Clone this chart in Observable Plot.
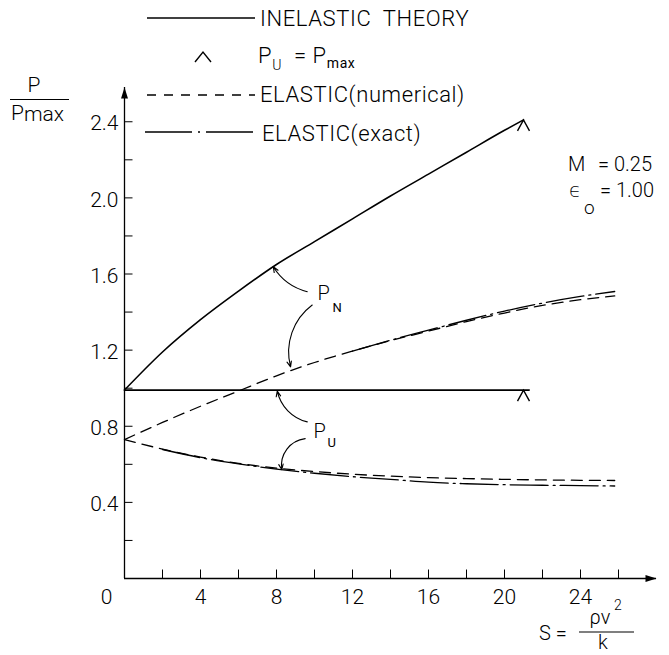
<!DOCTYPE html>
<html><head><meta charset="utf-8">
<script src="https://cdn.jsdelivr.net/npm/d3@7"></script>
<script src="https://cdn.jsdelivr.net/npm/@observablehq/plot@0.6"></script>
<style>
  body { margin: 0; background: #fff; }
  #chart svg { display: block; }
</style>
</head><body><div id="chart"></div>
<script>
// Load ratio P/Pmax against S = ρv²/k for M = 0.25, ε0 = 1.00

// Inelastic theory
const sInelastic  = [0, 2, 4, 6, 8, 10, 12, 14, 16, 18, 20, 21];
const pNInelastic = [0.99, 1.19, 1.36, 1.51, 1.65, 1.77, 1.89, 2.01, 2.125, 2.24, 2.355, 2.41];
const sInelasticU = [0, 21.3];
const pUInelastic = [0.99, 0.99];

// Elastic, numerical solution
const sElastic    = [0, 2, 4, 6, 8, 10, 12, 14, 16, 18, 20, 22, 24, 25.8];
const pNNumerical = [0.73, 0.82, 0.905, 0.985, 1.065, 1.135, 1.195, 1.25, 1.30, 1.35, 1.395, 1.435, 1.465, 1.485];
const pUNumerical = [0.73, 0.68, 0.638, 0.605, 0.58, 0.562, 0.548, 0.538, 0.53, 0.525, 0.521, 0.518, 0.516, 0.515];

// Elastic, exact solution
const sExactN = [12, 14, 16, 18, 20, 22, 24, 25.8];
const pNExact = [1.195, 1.252, 1.305, 1.357, 1.405, 1.447, 1.482, 1.508];
const sExactU = [2, 4, 6, 8, 10, 12, 14, 16, 18, 20, 22, 24, 25.8];
const pUExact = [0.678, 0.635, 0.602, 0.575, 0.553, 0.535, 0.521, 0.506, 0.498, 0.493, 0.49, 0.488, 0.486];

// Points where P_U = P_max
const sPeak = [21, 21];
const pPeak = [2.41, 0.99];

// Axes
const xTickLabels = [4, 8, 12, 16, 20, 24];
const xMinorTicks = [2, 4, 6, 8, 10, 12, 14, 16, 18, 20, 22, 24, 26];
const yTickLabels = [0.4, 0.8, 1.2, 1.6, 2.0, 2.4];
const yMinorTicks = [0.2, 0.4, 0.6, 0.8, 1.0, 1.2, 1.4, 1.6, 1.8, 2.0, 2.2, 2.4];
const xMax = 28, yMax = 2.58;

// Curve labels and their pointer arrows (data units)
const curveLabels = [
  {s: 10.16, p: 1.463, main: "P", sub: "N", ss: 10.95, sp: 1.40},
  {s: 9.95,  p: 0.737, main: "P", sub: "U", ss: 10.68, sp: 0.689}
];
const pointers = [
  {x1: 9.62, y1: 1.507, x2: 7.83, y2: 1.638, bend: 22},
  {x1: 9.88, y1: 1.437, x2: 8.74, y2: 1.112, bend: -34},
  {x1: 9.62, y1: 0.823, x2: 8.04, y2: 0.985, bend: 32},
  {x1: 9.51, y1: 0.735, x2: 8.28, y2: 0.572, bend: -46}
];

const FONT = "Roboto, 'DejaVu Sans', sans-serif";
const rows = (xs, ys) => xs.map((s, i) => ({s, p: ys[i]}));

// Custom glyphs for ticks, arrowheads and the P_U = P_max caret
const caret = {draw(c) { c.moveTo(-6, 11); c.lineTo(0, 0); c.lineTo(6, 11); }};
const tickUp = {draw(c) { c.moveTo(0, 0); c.lineTo(0, -9); }};
const tickRight = {draw(c) { c.moveTo(0, 0); c.lineTo(8, 0); }};
const headUp = {draw(c) { c.moveTo(0, 0); c.lineTo(3.5, 11); c.lineTo(-3.5, 11); c.closePath(); }};
const headRight = {draw(c) { c.moveTo(0, 0); c.lineTo(-11, 3.5); c.lineTo(-11, -3.5); c.closePath(); }};

const dash = "11,7";
const dashDot = "38,5,2,5";

const chart = Plot.plot({
  width: 669,
  height: 655,
  marginLeft: 124,
  marginRight: 13,
  marginTop: 87,
  marginBottom: 77,
  x: {domain: [0, xMax], axis: null},
  y: {domain: [0, yMax], axis: null},
  style: {fontFamily: FONT, background: "white", color: "black"},
  marks: [
    // axis lines with arrowheads
    Plot.ruleX([0], {y1: 0, y2: yMax, strokeWidth: 1.3}),
    Plot.ruleY([0], {x1: 0, x2: xMax, strokeWidth: 1.3}),
    Plot.dot([0], {x: 0, y: yMax, symbol: headUp, fill: "black", stroke: "none"}),
    Plot.dot([0], {x: xMax, y: 0, symbol: headRight, fill: "black", stroke: "none"}),
    // inward ticks
    Plot.dot(xMinorTicks, {x: d => d, y: 0, symbol: tickUp, stroke: "black", fill: "none", strokeWidth: 1}),
    Plot.dot(yMinorTicks, {x: 0, y: d => d, symbol: tickRight, stroke: "black", fill: "none", strokeWidth: 1}),
    // tick labels
    Plot.text(xTickLabels, {x: d => d, y: 0, dy: 19, text: d => String(d), fontSize: 21, fontWeight: 300, letterSpacing: 1.5}),
    Plot.text([0], {x: 0, y: 0, dx: -18, dy: 19, text: () => "0", fontSize: 21, fontWeight: 300}),
    Plot.text(yTickLabels, {x: 0, y: d => d, dx: -6, dy: 2, text: d => d.toFixed(1), textAnchor: "end", fontSize: 21, fontWeight: 300, letterSpacing: 2}),

    // elastic solutions
    Plot.line(rows(sElastic, pNNumerical), {x: "s", y: "p", curve: "monotone-x", strokeWidth: 1.3, strokeDasharray: dash}),
    Plot.line(rows(sElastic, pUNumerical), {x: "s", y: "p", curve: "monotone-x", strokeWidth: 1.3, strokeDasharray: dash}),
    Plot.line(rows(sExactN, pNExact), {x: "s", y: "p", curve: "monotone-x", strokeWidth: 1.3, strokeDasharray: dashDot}),
    Plot.line(rows(sExactU, pUExact), {x: "s", y: "p", curve: "monotone-x", strokeWidth: 1.3, strokeDasharray: dashDot}),

    // inelastic theory
    Plot.line(rows(sInelastic, pNInelastic), {x: "s", y: "p", curve: "monotone-x", strokeWidth: 1.6}),
    Plot.line(rows(sInelasticU, pUInelastic), {x: "s", y: "p", strokeWidth: 1.6}),
    Plot.dot(rows(sPeak, pPeak), {x: "s", y: "p", symbol: caret, stroke: "black", fill: "none", strokeWidth: 1.4}),

    // curved pointers from the labels to the curves
    ...pointers.map(d => Plot.arrow([d], {x1: "x1", y1: "y1", x2: "x2", y2: "y2", bend: d.bend, headLength: 8, headAngle: 45, strokeWidth: 1.1, stroke: "black"})),
    Plot.text(curveLabels, {x: "s", y: "p", text: "main", textAnchor: "start", lineAnchor: "bottom", fontSize: 20, fontWeight: 300}),
    Plot.text(curveLabels, {x: "ss", y: "sp", text: "sub", textAnchor: "start", lineAnchor: "bottom", fontSize: 13, fontWeight: 400})
  ]
});

document.getElementById("chart").appendChild(chart);

// Legend, axis titles and parameter notes drawn on top of the plot
const svg = d3.select(chart);
const g = svg.append("g")
  .attr("font-family", FONT)
  .attr("font-weight", 300)
  .attr("text-anchor", "start")
  .attr("fill", "black");

const legend = g.append("g").attr("font-size", 22).attr("letter-spacing", 0.6);
legend.append("line").attr("x1", 147).attr("x2", 255).attr("y1", 18).attr("y2", 18).attr("stroke", "black").attr("stroke-width", 1.4);
legend.append("text").attr("x", 260).attr("y", 26).text("INELASTIC  THEORY");

legend.append("path").attr("d", "M195,62L203,52L211,62").attr("fill", "none").attr("stroke", "black").attr("stroke-width", 1.4);
const pu = legend.append("text").attr("x", 258).attr("y", 63);
pu.append("tspan").text("P");
pu.append("tspan").attr("font-size", 14).attr("dy", 7).text("U");
pu.append("tspan").attr("dy", -7).text("  = P");
pu.append("tspan").attr("font-size", 14).attr("dy", 5).attr("font-weight", 400).text("max");

legend.append("line").attr("x1", 147).attr("x2", 255).attr("y1", 95).attr("y2", 95).attr("stroke", "black").attr("stroke-width", 1.4).attr("stroke-dasharray", "9,8");
legend.append("text").attr("x", 260).attr("y", 102).text("ELASTIC(numerical)");

legend.append("line").attr("x1", 145).attr("x2", 253).attr("y1", 132).attr("y2", 132).attr("stroke", "black").attr("stroke-width", 1.4).attr("stroke-dasharray", "47,6,2,6,47");
legend.append("text").attr("x", 262).attr("y", 141).text("ELASTIC(exact)");

// y-axis title P / Pmax
const yt = g.append("g").attr("font-size", 21);
yt.append("text").attr("x", 34).attr("y", 92).attr("text-anchor", "middle").text("P");
yt.append("line").attr("x1", 10).attr("x2", 69).attr("y1", 99.5).attr("y2", 99.5).attr("stroke", "black").attr("stroke-width", 1.2);
const pm = yt.append("text").attr("x", 11).attr("y", 120);
pm.append("tspan").text("P");
pm.append("tspan").attr("dy", 1).text("max");

// x-axis title S = ρv²/k
const xt = g.append("g").attr("font-size", 20);
xt.append("text").attr("x", 539).attr("y", 640).text("S =");
xt.append("text").attr("x", 600).attr("y", 624).attr("text-anchor", "middle").text("ρv");
xt.append("text").attr("x", 614).attr("y", 610).attr("font-size", 14).text("2");
xt.append("line").attr("x1", 579).attr("x2", 634).attr("y1", 632).attr("y2", 632).attr("stroke", "black").attr("stroke-width", 1.2);
xt.append("text").attr("x", 603).attr("y", 649).attr("text-anchor", "middle").text("k");

// parameters
const par = g.append("g").attr("font-size", 20);
par.append("text").attr("x", 568).attr("y", 171).text("M");
par.append("text").attr("x", 598).attr("y", 171).text("= 0.25");
par.append("text").attr("x", 569).attr("y", 197).text("ϵ");
par.append("text").attr("x", 584).attr("y", 214).attr("font-size", 19).text("o");
par.append("text").attr("x", 600).attr("y", 197).text("= 1.00");
</script>
</body></html>
